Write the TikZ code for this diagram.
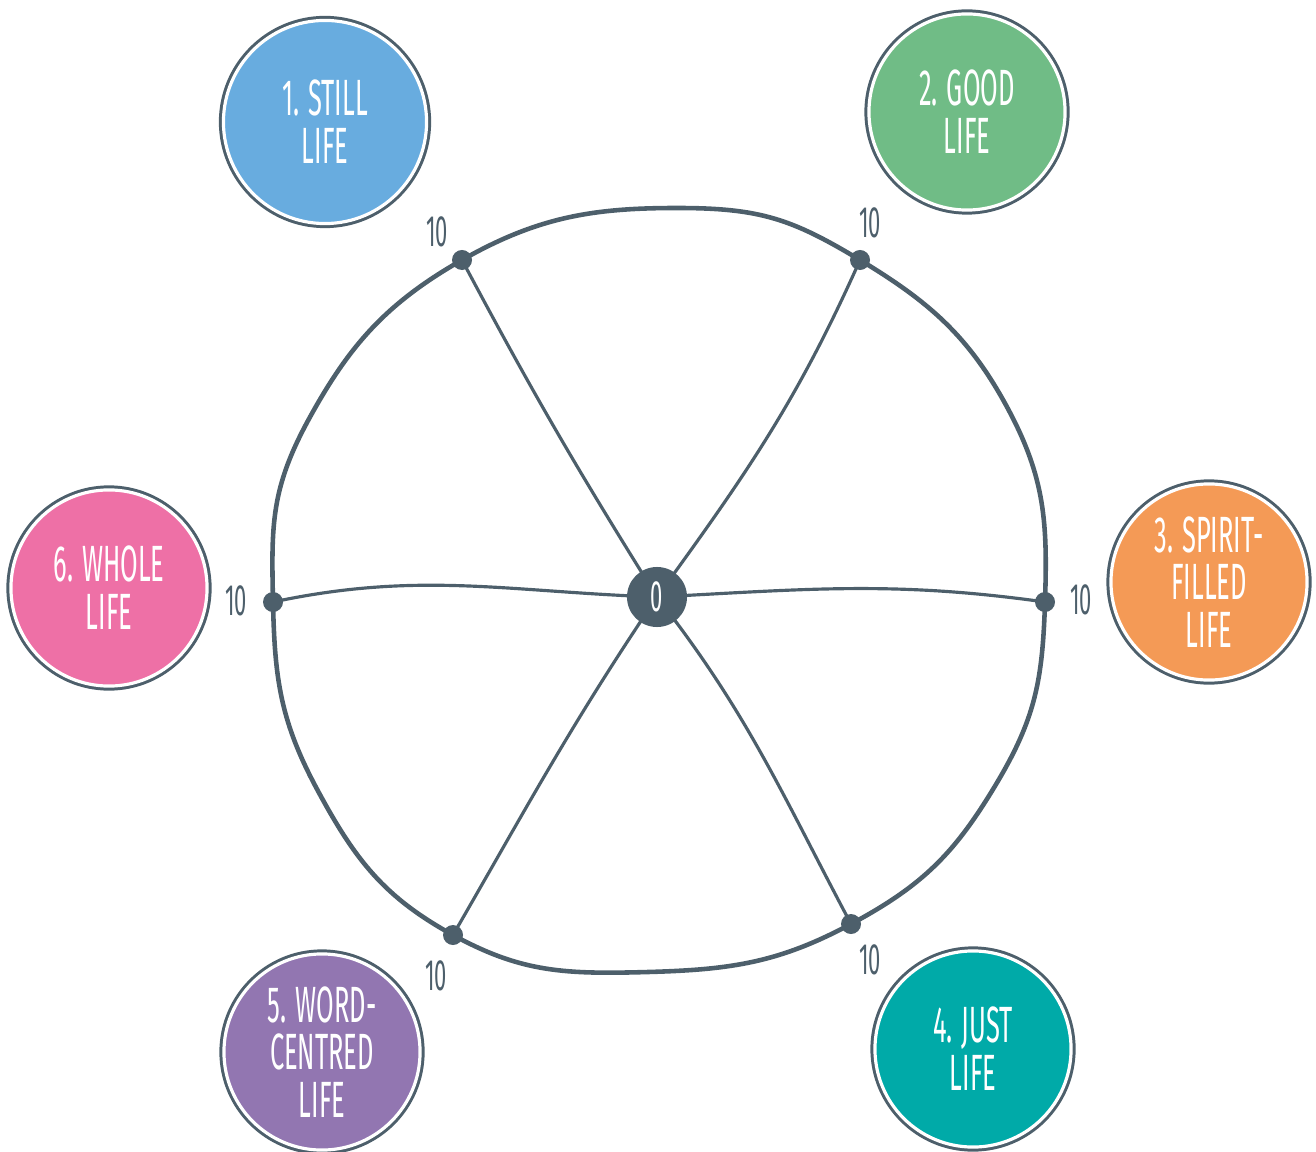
\documentclass[tikz,border=0pt]{standalone}
\usepackage{fontspec}
\newfontfamily\handfont[FakeStretch=0.5]{Fira Sans}
\usetikzlibrary{backgrounds}
\definecolor{wheelSlate}{HTML}{4D5F6B}
\definecolor{lifeBlue}{HTML}{68ACDF}
\definecolor{lifeGreen}{HTML}{70BC86}
\definecolor{lifeOrange}{HTML}{F49A56}
\definecolor{lifeTeal}{HTML}{00AAA8}
\definecolor{lifePurple}{HTML}{9276B1}
\definecolor{lifePink}{HTML}{EE70A6}

\begin{document}
\begin{tikzpicture}[x=0.01cm,y=0.01cm,
  badge/.style={circle,fill=#1,draw=white,line width=0.9pt,
                preaction={draw=wheelSlate,line width=2.6pt},
                minimum size=1.96cm,inner sep=0pt,
                font=\handfont\fontsize{14.5}{13.6}\selectfont,text=white,align=center},
  dot/.style={circle,fill=wheelSlate,minimum size=0.2cm,inner sep=0pt},
  hub/.style={circle,fill=wheelSlate,minimum size=0.6cm,inner sep=0pt,
              font=\handfont\fontsize{12.5}{12.5}\selectfont,text=white},
  score/.style={font=\handfont\fontsize{12.5}{12.5}\selectfont,text=wheelSlate},
  rim/.style={wheelSlate,line width=1.3pt},
  spoke/.style={wheelSlate,line width=0.9pt}]
  \useasboundingbox (0,0) rectangle (1316,1151);
  % hub and score points
  \node[hub] (hub) at (657,554) {0};
  \node[dot] (d1) at (462,891) {};
  \node[dot] (d2) at (860,891) {};
  \node[dot] (d3) at (1045,549) {};
  \node[dot] (d4) at (851,227) {};
  \node[dot] (d5) at (453,216) {};
  \node[dot] (d6) at (273,549) {};
  % wheel
  \begin{scope}[on background layer]
    \draw[rim] plot[smooth cycle,tension=0.75] coordinates {
      (d6.center) (310,734) (d1.center) (677,943) (d2.center) (1007,744)
      (d3.center) (995,365) (d4.center) (648,179) (d5.center) (318,360)};
    \draw[spoke] (hub.center) to[out=122,in=-62] (d1.center);
    \draw[spoke] (hub.center) to[out=54,in=-114] (d2.center);
    \draw[spoke] (hub.center) to[out=3,in=172] (d3.center);
    \draw[spoke] (hub.center) to[out=-52,in=118] (d4.center);
    \draw[spoke] (hub.center) to[out=-124,in=60] (d5.center);
    \draw[spoke] (hub.center) to[out=178,in=12] (d6.center);
  \end{scope}
  % scores
  \node[score] (s1) at (437,919) {10};
  \node[score] (s2) at (870,928) {10};
  \node[score] (s3) at (1081,551) {10};
  \node[score] (s4) at (870,191) {10};
  \node[score] (s5) at (436,175) {10};
  \node[score] (s6) at (236,550) {10};
  % the six lives
  \node[badge=lifeBlue,minimum size=2.03cm] (b1) at (325,1029) {1. STILL\\LIFE};
  \node[badge=lifeGreen] (b2) at (967,1039) {2. GOOD\\LIFE};
  \node[badge=lifeOrange] (b3) at (1209,569) {3. SPIRIT-\\FILLED\\LIFE};
  \node[badge=lifeTeal] (b4) at (973,102) {4. JUST\\LIFE};
  \node[badge=lifePurple] (b5) at (322,99) {5. WORD-\\CENTRED\\LIFE};
  \node[badge=lifePink] (b6) at (109,563) {6. WHOLE\\LIFE};
\end{tikzpicture}
\end{document}
